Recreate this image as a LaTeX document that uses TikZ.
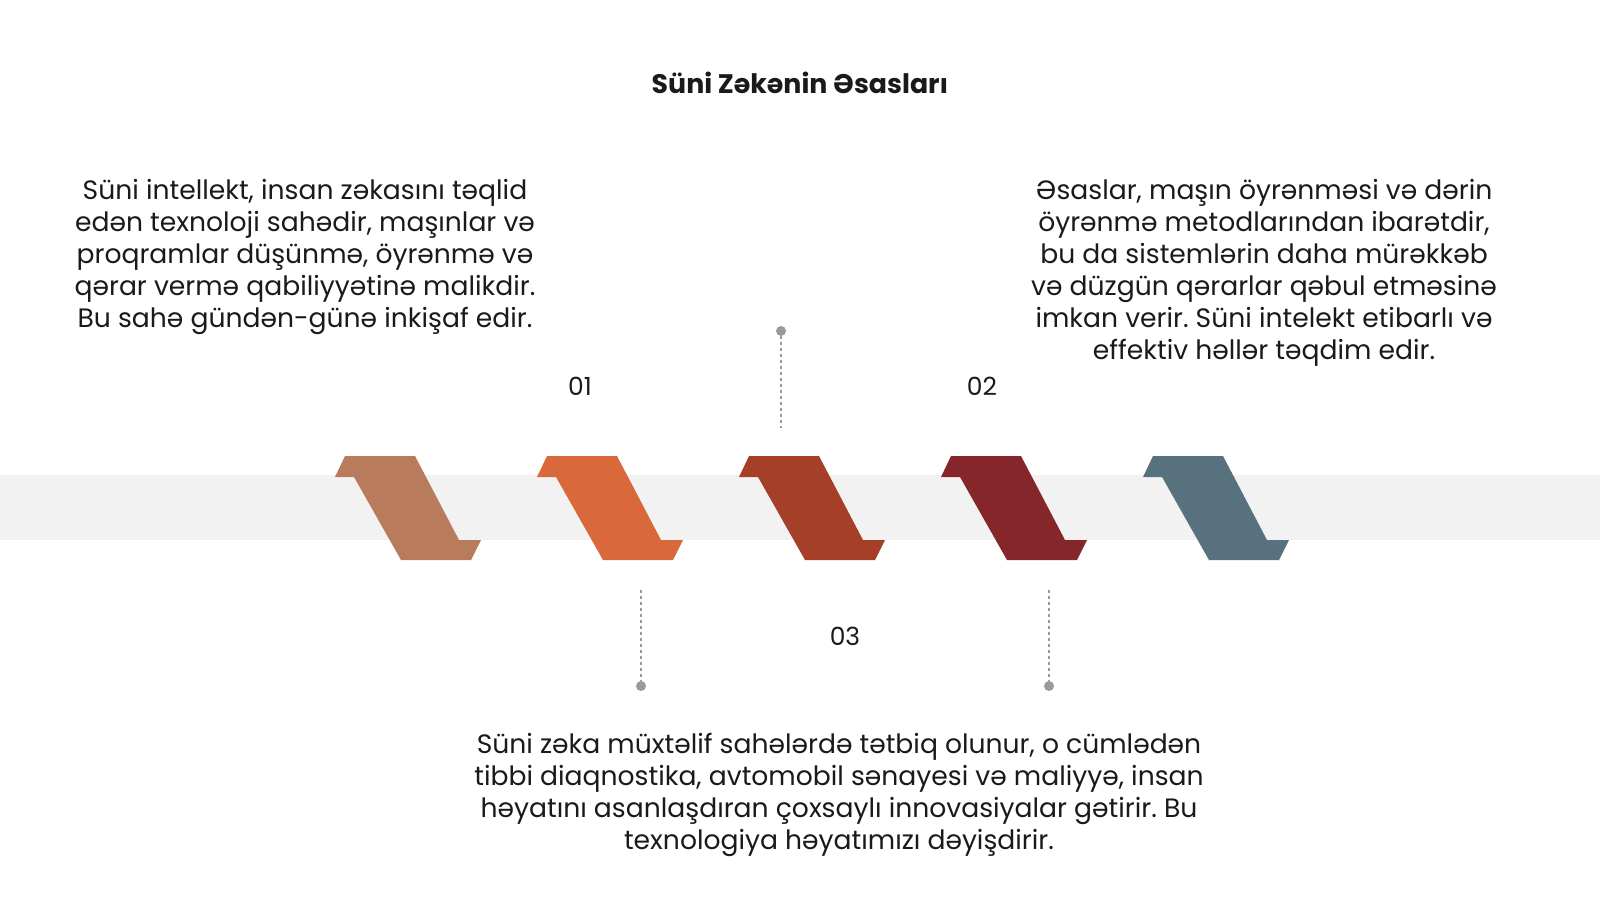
\documentclass[tikz,border=0pt]{standalone}
\usepackage{fontspec}
\setmainfont{Poppins}
\frenchspacing
\definecolor{bandc}{HTML}{F2F2F2}
\definecolor{cA}{HTML}{B87B5B}
\definecolor{cB}{HTML}{D9693A}
\definecolor{cC}{HTML}{A53F28}
\definecolor{cD}{HTML}{84262A}
\definecolor{cE}{HTML}{57717F}
\definecolor{dotc}{HTML}{9A9A9A}
\definecolor{txt}{HTML}{1A1A1A}
\tikzset{
  body/.style={align=center, font=\fontsize{13.3}{16}\selectfont, text=txt, inner sep=0pt},
  numlbl/.style={font=\fontsize{12.5}{16}\selectfont, text=txt, inner sep=0pt},
  dotmark/.style={circle, fill=dotc, minimum size=5pt, inner sep=0pt},
  dotline/.style={draw=dotc, line width=0.6pt, dash pattern=on 1.5pt off 1.5pt},
}
\begin{document}
\begin{tikzpicture}[x=0.5pt,y=-0.5pt]
\useasboundingbox (0,0) rectangle (1600,900);
\fill[white] (0,0) rectangle (1600,900);
\fill[bandc] (0,475) rectangle (1600,540);
\foreach \i/\c in {0/cA,1/cB,2/cC,3/cD,4/cE}{
  \fill[\c, shift={(345+202*\i,456)}] (0,0) -- (70,0) -- (114,84) -- (136,84) -- (126,104) -- (56,104) -- (9,21) -- (-10,21) -- cycle;
}
\node[font=\bfseries\fontsize{13.4}{16}\selectfont, text=txt] (title) at (800,83) {Süni Zəkənin Əsasları};
\node[body] (t1) at (305,257) {Süni intellekt, insan zəkasını təqlid\\edən texnoloji sahədir, maşınlar və\\proqramlar düşünmə, öyrənmə və\\qərar vermə qabiliyyətinə malikdir.\\Bu sahə gündən-günə inkişaf edir.};
\node[body] (t2) at (1264,273) {Əsaslar, maşın öyrənməsi və dərin\\öyrənmə metodlarından ibarətdir,\\bu da sistemlərin daha mürəkkəb\\və düzgün qərarlar qəbul etməsinə\\imkan verir. Süni intelekt etibarlı və\\effektiv həllər təqdim edir.};
\node[body] (t3) at (839,795) {Süni zəka müxtəlif sahələrdə tətbiq olunur, o cümlədən\\tibbi diaqnostika, avtomobil sənayesi və maliyyə, insan\\həyatını asanlaşdıran çoxsaylı innovasiyalar gətirir. Bu\\texnologiya həyatımızı dəyişdirir.};
\node[numlbl] (n1) at (580,386) {01};
\node[numlbl] (n2) at (982,386) {02};
\node[numlbl] (n3) at (845,636) {03};
\node[dotmark] (d1) at (781,331) {};
\coordinate (e1) at (781,428);
\draw[dotline] (d1) -- (e1);
\node[dotmark] (d2) at (641,686) {};
\coordinate (e2) at (641,590);
\draw[dotline] (e2) -- (d2);
\node[dotmark] (d3) at (1049,686) {};
\coordinate (e3) at (1049,590);
\draw[dotline] (e3) -- (d3);
\end{tikzpicture}
\end{document}
